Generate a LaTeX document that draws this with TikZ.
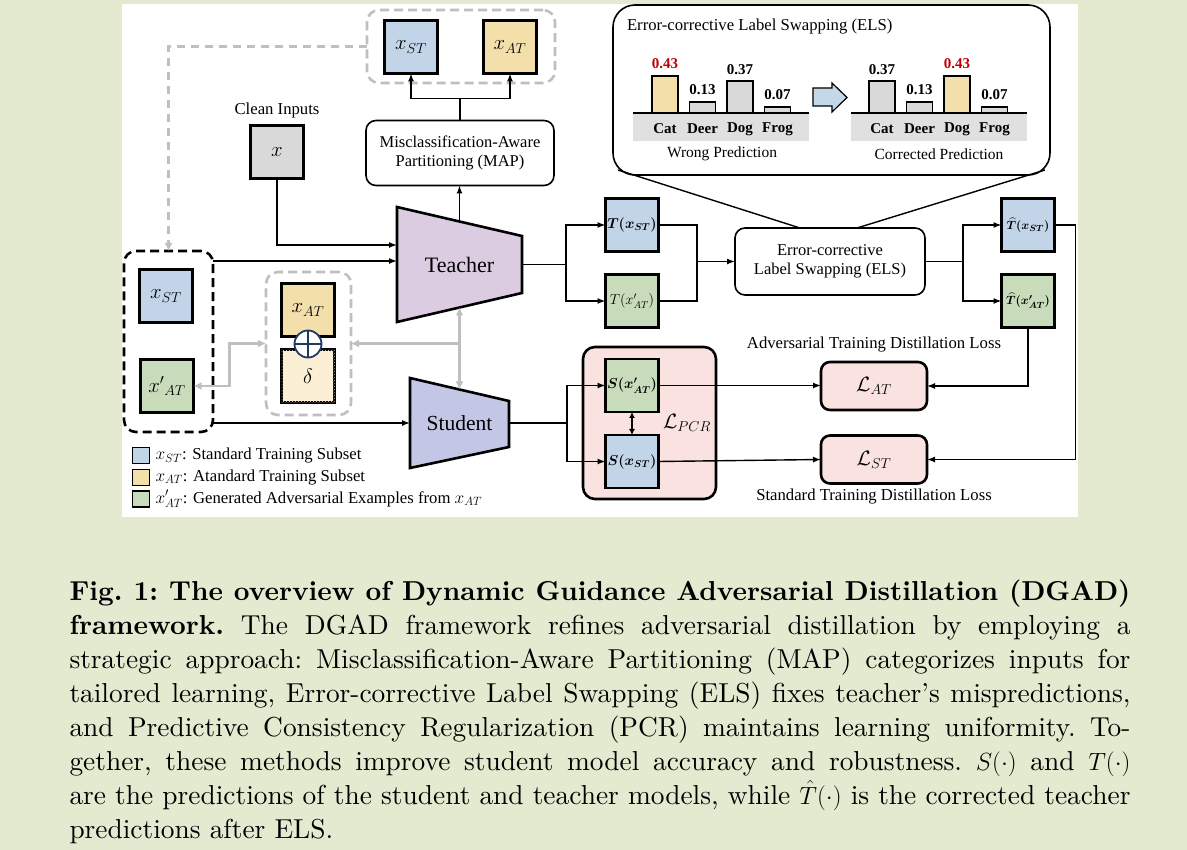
\documentclass[tikz,border=0pt]{standalone}
\usepackage{amsmath}
\usepackage{fontspec}
\newfontfamily\tnr{Liberation Serif}
\newfontfamily\capfont{lmroman10-regular.otf}[BoldFont=lmroman10-bold.otf, Ligatures=TeX]
\usetikzlibrary{arrows.meta,calc,patterns,positioning}

\definecolor{pagegreen}{RGB}{227,234,208}
\definecolor{stblue}{RGB}{194,213,232}
\definecolor{atyellow}{RGB}{242,223,170}
\definecolor{advgreen}{RGB}{200,219,186}
\definecolor{inputgray}{RGB}{217,217,217}
\definecolor{teachviolet}{RGB}{219,204,226}
\definecolor{studviolet}{RGB}{196,198,229}
\definecolor{losspink}{RGB}{249,226,224}
\definecolor{deltacream}{RGB}{252,241,214}
\definecolor{swapblue}{RGB}{196,216,232}
\definecolor{plusnavy}{RGB}{31,56,100}
\definecolor{guidegray}{RGB}{191,191,191}
\definecolor{chartgray}{RGB}{224,224,224}
\definecolor{valred}{RGB}{192,0,0}

\begin{document}
\begin{tikzpicture}[x=1pt, y=-1pt,
  every node/.style={inner sep=0pt, outer sep=0pt},
  sq/.style={draw, line width=2.4pt, minimum width=53pt, minimum height=53pt,
    font=\fontsize{20}{24}\selectfont},
  predbox/.style={sq, font=\fontsize{14}{17}\selectfont},
  procbox/.style={draw, line width=1.6pt, rounded corners=10pt, fill=white,
    align=center, font=\tnr\fontsize{16.5}{19.5}\selectfont},
  lossbox/.style={draw, line width=2.6pt, rounded corners=9pt, fill=losspink,
    minimum width=106pt, minimum height=48pt, font=\fontsize{20}{24}\selectfont},
  txt/.style={font=\tnr\fontsize{16.7}{19}\selectfont},
  barlabel/.style={font=\tnr\bfseries\fontsize{15}{18}\selectfont},
  bar/.style={draw, line width=1.5pt},
  link/.style={line width=1.4pt},
  flow/.style={link, -{Latex[length=8pt,width=6pt]}},
  guide/.style={line width=2.4pt, draw=guidegray, -{Latex[length=8pt,width=8pt]}},
  groupbox/.style={rounded corners=12pt, line width=2.6pt, dash pattern=on 9pt off 5pt}
]

\useasboundingbox (0,0) rectangle (1187,850);
\fill[pagegreen] (0,0) rectangle (1187,850);
\fill[white] (122,4) rectangle (1078,517);

% Partition result on top
\node[groupbox, draw=guidegray, minimum width=188pt, minimum height=73pt] (mapout) at (461,46.5) {};
\node[sq, fill=stblue] (xstTop) at (411,47) {$x_{ST}$};
\node[sq, fill=atyellow] (xatTop) at (510,47) {$x_{AT}$};
\node[procbox, minimum width=188pt, minimum height=65pt] (map) at (460,153) {Misclassification-Aware\\Partitioning (MAP)};

\node[sq, fill=inputgray] (xin) at (277,152) {$x$};
\node[txt, above=7pt of xin] (cleanlbl) {Clean Inputs};

% Teacher and student networks
\coordinate (tA) at (397,207); \coordinate (tB) at (522,236);
\coordinate (tC) at (522,293); \coordinate (tD) at (397,322);
\draw[line width=2.6pt, fill=teachviolet, line join=miter] (tA) -- (tB) -- (tC) -- (tD) -- cycle;
\node[font=\tnr\fontsize{22}{26}\selectfont, minimum width=125pt, minimum height=115pt] (teacher) at (459.5,264.5) {Teacher};

\coordinate (sA) at (410,378); \coordinate (sB) at (509,401);
\coordinate (sC) at (509,447); \coordinate (sD) at (410,468);
\draw[line width=2.6pt, fill=studviolet, line join=miter] (sA) -- (sB) -- (sC) -- (sD) -- cycle;
\node[font=\tnr\fontsize{21.5}{26}\selectfont, minimum width=99pt, minimum height=90pt] (student) at (459.5,423) {Student};

% Training inputs
\node[groupbox, draw=black, minimum width=89pt, minimum height=181pt] (inputs) at (168.5,341.5) {};
\node[sq, fill=stblue] (xstL) at (166,296) {$x_{ST}$};
\node[sq, fill=advgreen] (xadvL) at (167,386) {${x'}_{AT}$};

\node[groupbox, draw=guidegray, minimum width=85pt, minimum height=143pt] (perturb) at (308.5,343.5) {};
\node[sq, fill=atyellow] (xatIn) at (308,310) {$x_{AT}$};
\node[sq, fill=deltacream, postaction={pattern=crosshatch dots, pattern color=atyellow!60}] (delta) at (308,376) {$\delta$};
\node[circle, draw=plusnavy, fill=white, line width=1.8pt, minimum size=27pt,
  path picture={\draw[plusnavy, line width=1.8pt]
    (path picture bounding box.north) -- (path picture bounding box.south)
    (path picture bounding box.west) -- (path picture bounding box.east);}] (plus) at (308,344) {};

% Gray guidance paths
\coordinate (tBot) at ($(tD)!0.5!(tC)$);
\coordinate (sTop) at ($(sA)!0.5!(sB)$);
\draw[guide, {Latex[length=8pt,width=8pt]}-{Latex[length=8pt,width=8pt]}] (tBot) -- (sTop);
\coordinate (gjoin) at (tBot |- perturb.east);
\draw[guide] (gjoin) -- (perturb.east);
\draw[guide, {Latex[length=8pt,width=8pt]}-{Latex[length=8pt,width=8pt]}] (xadvL.east) -- ++(36,0) |- (perturb.west);
\draw[guide, dash pattern=on 8pt off 6pt] (mapout.west) -| (inputs.north);

% Black data flow
\coordinate (tin) at ($(teacher.west)+(0,-3.5)$);
\draw[flow] (xin.south) |- ($(teacher.west)+(0,-19.5)$);
\draw[flow] (inputs.east |- tin) -- (tin);
\draw[flow] (inputs.east |- student.west) -- (student.west);

\coordinate (tTop) at ($(tA)!0.5!(tB)$);
\draw[flow] (tTop) -- (tTop |- map.south);
\draw[link] (map.north) -- ++(0,-22) coordinate (mapsplit);
\draw[flow] (mapsplit) -| (xstTop.south);
\draw[flow] (mapsplit) -| (xatTop.south);

\node[predbox, fill=stblue] (tST) at (632,225) {$\boldsymbol{T(x_{ST})}$};
\node[predbox, fill=advgreen] (tAT) at (632,301) {$T(x'_{AT})$};
\draw[link] (teacher.east) -- ++(44,0) coordinate (tsplit);
\draw[flow] (tsplit) |- (tST.west);
\draw[flow] (tsplit) |- (tAT.west);

\node[procbox, minimum width=190pt, minimum height=67pt] (els) at (830,261.5) {Error-corrective\\Label Swapping (ELS)};
\coordinate (tmerge) at ($(els.west)+(-38,0)$);
\draw[link] (tST.east) -| (tmerge) |- (tAT.east);
\draw[flow] (tmerge) -- (els.west);

\node[predbox, fill=stblue, font=\fontsize{13}{16}\selectfont] (thST) at (1028,225) {$\boldsymbol{\widehat{T}(x_{ST})}$};
\node[predbox, fill=advgreen, font=\fontsize{13}{16}\selectfont] (thAT) at (1028,301) {$\boldsymbol{\widehat{T}(x'_{AT})}$};
\draw[link] (els.east) -- ++(38,0) coordinate (esplit);
\draw[flow] (esplit) |- (thST.west);
\draw[flow] (esplit) |- (thAT.west);

% Losses
\node[lossbox] (lAT) at (874,386) {$\mathcal{L}_{AT}$};
\node[lossbox] (lST) at (874,459.5) {$\mathcal{L}_{ST}$};
\node[txt, above=10pt of lAT] (atlbl) {Adversarial Training Distillation Loss};
\node[txt, below=5pt of lST] (stlbl) {Standard Training Distillation Loss};
\draw[flow] (thST.east) -- ++(21,0) |- (lST.east);
\draw[flow] (thAT.south) |- (lAT.east);

\node[draw, line width=2.6pt, rounded corners=12pt, fill=losspink, minimum width=133pt, minimum height=152pt] (pcr) at (649.5,423) {};
\node[predbox, fill=advgreen] (sAT) at (632,385.5) {$\boldsymbol{S(x'_{AT})}$};
\node[predbox, fill=stblue] (sST) at (632,461.5) {$\boldsymbol{S(x_{ST})}$};
\draw[link, line width=1.8pt, {Latex[length=6pt,width=6pt]}-{Latex[length=6pt,width=6pt]}] (sAT.south) -- (sST.north);
\node[font=\fontsize{20}{24}\selectfont] (lpcr) at (687,423) {$\mathcal{L}_{PCR}$};
\draw[link] (student.east) -- ++(58,0) coordinate (ssplit);
\draw[flow] (ssplit) |- (sAT.west);
\draw[flow] (ssplit) |- (sST.west);
\draw[flow] (sAT.east) -- (sAT.east -| lAT.west);
\draw[flow] (sST.east) -- (lST.west);

% ELS call-out
\node[draw, line width=1.6pt, rounded corners=22pt, fill=white, minimum width=437pt, minimum height=170pt] (callout) at (831.5,90) {};
\draw[link] ($(callout.south west)+(5,-5)$) -- ($(els.north)+(-30,0)$);
\draw[link] ($(callout.south east)+(-5,-5)$) -- ($(els.north)+(27,0)$);
\node[txt, anchor=west] (elstitle) at (627,27) {Error-corrective Label Swapping (ELS)};

\fill[chartgray] (633,113) rectangle (809,141);
\fill[chartgray] (851,113) rectangle (1027,141);
\draw[link] (633,113) -- (809,113);
\draw[link] (851,113) -- (1027,113);
\foreach \lbl/\val/\fc/\vc [count=\i from 0] in {Cat/0.43/atyellow/valred, Deer/0.13/inputgray/black, Dog/0.37/inputgray/black, Frog/0.07/inputgray/black}{
  \draw[bar, fill=\fc] (652+37.5*\i,113) rectangle ++(26,-86*\val);
  \node[barlabel, text=\vc] (wv\i) at (665+37.5*\i,101-86*\val) {\val};
  \node[barlabel] (wn\i) at (665+37.5*\i,129) {\lbl};
}
\foreach \lbl/\val/\fc/\vc [count=\i from 0] in {Cat/0.37/inputgray/black, Deer/0.13/inputgray/black, Dog/0.43/atyellow/valred, Frog/0.07/inputgray/black}{
  \draw[bar, fill=\fc] (869+37.5*\i,113) rectangle ++(26,-86*\val);
  \node[barlabel, text=\vc] (cv\i) at (882+37.5*\i,101-86*\val) {\val};
  \node[barlabel] (cn\i) at (882+37.5*\i,129) {\lbl};
}
\node[txt, font=\tnr\fontsize{15.5}{18}\selectfont] (wronglbl) at (722,154) {Wrong Prediction};
\node[txt, font=\tnr\fontsize{15.5}{18}\selectfont] (corrlbl) at (939,154) {Corrected Prediction};
\draw[line width=1.2pt, fill=swapblue, line join=miter] (813,88) -- (832,88) -- (832,83) -- (847,97.5) -- (832,112) -- (832,106) -- (813,106) -- cycle;

% Legend
\foreach \fc/\keytext [count=\i from 0] in {stblue/{$x_{ST}$: Standard Training Subset}, atyellow/{$x_{AT}$: Atandard Training Subset}, advgreen/{$x'_{AT}$: Generated Adversarial Examples from $x_{AT}$}}{
  \node[draw, line width=1.2pt, fill=\fc, minimum width=17pt, minimum height=16pt] (key\i) at (141,455.5+21.7*\i) {};
  \node[txt, right=6pt of key\i] (keytxt\i) {\keytext};
}

% Caption
\node[anchor=north west, text width=1061pt, align=justify, font=\capfont\frenchspacing\fontsize{27.4}{34}\selectfont] (caption) at (69.5,579.5) {\textbf{Fig. 1: The overview of Dynamic Guidance Adversarial Distillation (DGAD)\linebreak framework.} The DGAD framework refines adversarial distillation by employing a\linebreak strategic approach: Misclassification-Aware Partitioning (MAP) categorizes inputs for\linebreak tailored learning, Error-corrective Label Swapping (ELS) fixes teacher’s mispredictions,\linebreak and Predictive Consistency Regularization (PCR) maintains learning uniformity. To-\linebreak gether, these methods improve student model accuracy and robustness. $S(\cdot)$ and $T(\cdot)$\linebreak are the predictions of the student and teacher models, while $\hat{T}(\cdot)$ is the corrected teacher\linebreak predictions after ELS.};

\end{tikzpicture}
\end{document}
